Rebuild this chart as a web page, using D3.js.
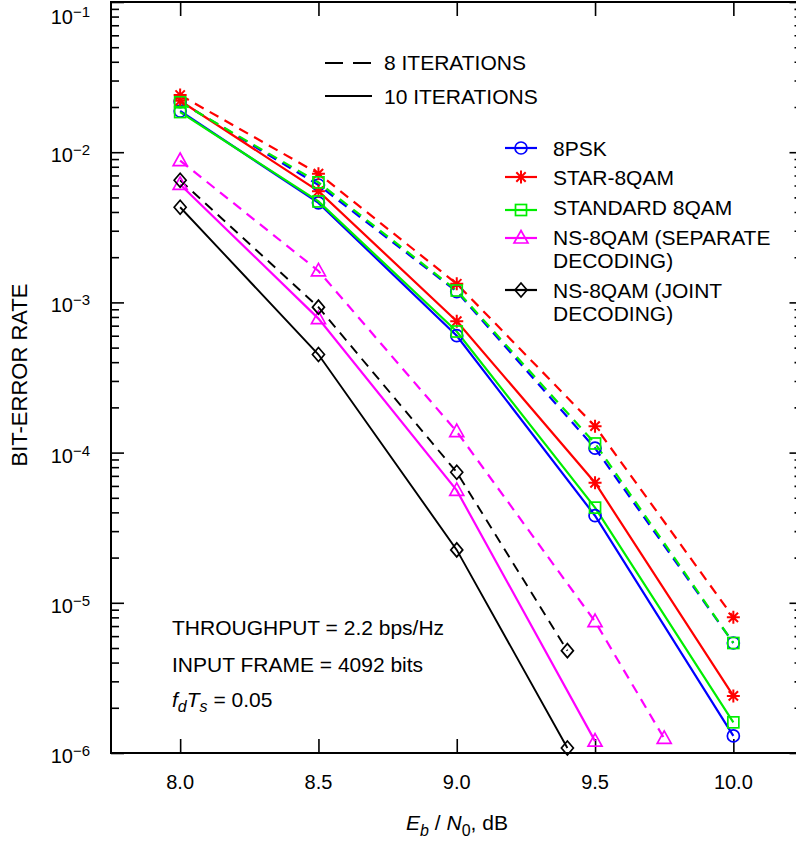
<!DOCTYPE html>
<html>
<head>
<meta charset="utf-8">
<script src="https://cdn.jsdelivr.net/npm/d3@7/dist/d3.min.js"></script>
<style>
  body { margin: 0; background: #fff; }
  svg { display: block; }
  text { font-family: 'Liberation Sans', Arial, Helvetica, sans-serif; fill: #000; }
</style>
</head>
<body>
<svg id="chart" width="796" height="841"></svg>
<script>
// Eb/N0 grid (dB) for each curve
const ebn0 = [8.0, 8.5, 9.0, 9.5, 10.0];
const ebn0NsSep8 = [8.0, 8.5, 9.0, 9.5, 9.75];
const ebn0NsSep10 = [8.0, 8.5, 9.0, 9.5];
const ebn0NsJoint = [8.0, 8.5, 9.0, 9.4];

// Bit-error rates, 8 and 10 decoder iterations
const psk8It8 = [2.17e-2, 6.05e-3, 1.18e-3, 1.07e-4, 5.4e-6];
const psk8It10 = [1.88e-2, 4.6e-3, 6.0e-4, 3.8e-5, 1.3e-6];
const starIt8 = [2.4e-2, 7.2e-3, 1.33e-3, 1.5e-4, 8.0e-6];
const starIt10 = [2.2e-2, 5.5e-3, 7.5e-4, 6.3e-5, 2.4e-6];
const stdIt8 = [2.15e-2, 6.3e-3, 1.2e-3, 1.15e-4, 5.4e-6];
const stdIt10 = [1.85e-2, 4.7e-3, 6.4e-4, 4.3e-5, 1.6e-6];
const nsSepIt8 = [8.8e-3, 1.62e-3, 1.38e-4, 7.5e-6, 1.25e-6];
const nsSepIt10 = [6.1e-3, 7.8e-4, 5.6e-5, 1.2e-6];
const nsJointIt8 = [6.5e-3, 9.3e-4, 7.4e-5, 4.8e-6];
const nsJointIt10 = [4.3e-3, 4.5e-4, 2.25e-5, 1.08e-6];

// Axis ticks
const xTicks = [8.0, 8.5, 9.0, 9.5, 10.0];
const xTickLabels = ["8.0", "8.5", "9.0", "9.5", "10.0"];
const yMajor = [1e-6, 1e-5, 1e-4, 1e-3, 1e-2, 1e-1];
const yExponents = ["\u22126", "\u22125", "\u22124", "\u22123", "\u22122", "\u22121"];

const seriesNames = ["8PSK", "STAR-8QAM", "STANDARD 8QAM", "NS-8QAM (SEPARATE|DECODING)", "NS-8QAM (JOINT|DECODING)"];
const seriesColors = ["#0000ff", "#ff0000", "#00ee00", "#ff00ff", "#000000"];
const seriesMarkers = ["circle", "asterisk", "square", "triangle", "diamond"];

const series = [
  { x8: ebn0, y8: psk8It8, x10: ebn0, y10: psk8It10 },
  { x8: ebn0, y8: starIt8, x10: ebn0, y10: starIt10 },
  { x8: ebn0, y8: stdIt8, x10: ebn0, y10: stdIt10 },
  { x8: ebn0NsSep8, y8: nsSepIt8, x10: ebn0NsSep10, y10: nsSepIt10 },
  { x8: ebn0NsJoint, y8: nsJointIt8, x10: ebn0NsJoint, y10: nsJointIt10 }
].map((s, i) => ({ ...s, name: seriesNames[i], color: seriesColors[i], marker: seriesMarkers[i] }));

const svg = d3.select("#chart");
const plotLeft = 111, plotRight = 802.5, plotTop = 2, plotBottom = 753;
const textSize = 21;

const x = d3.scaleLinear().domain([7.75, 10.25]).range([plotLeft, plotRight]);
const y = d3.scaleLog().domain([1e-6, 1e-1]).range([plotBottom, plotTop]);

const dashPattern = "10,7";

// minor ticks: 2..9 of each decade
const yMinor = y.ticks().filter(v => !yMajor.some(m => Math.abs(m - v) / m < 1e-9));

const axes = svg.append("g").attr("class", "axes");

function styleAxis(g) {
  g.select(".domain").remove();
  g.selectAll(".tick line").attr("stroke", "#000").attr("stroke-width", 1.6);
  g.selectAll(".tick text").remove();
}

axes.append("g").attr("transform", `translate(0,${plotBottom})`)
  .call(d3.axisBottom(x).tickValues(xTicks).tickSize(-14)).call(styleAxis);
axes.append("g").attr("transform", `translate(0,${plotTop})`)
  .call(d3.axisTop(x).tickValues(xTicks).tickSize(-14)).call(styleAxis);
axes.append("g").attr("transform", `translate(${plotLeft},0)`)
  .call(d3.axisLeft(y).tickValues(yMajor).tickSize(-13)).call(styleAxis);
axes.append("g").attr("transform", `translate(${plotLeft},0)`)
  .call(d3.axisLeft(y).tickValues(yMinor).tickSize(-8)).call(styleAxis);
axes.append("g").attr("transform", `translate(${plotRight},0)`)
  .call(d3.axisRight(y).tickValues(yMajor).tickSize(-13)).call(styleAxis);
axes.append("g").attr("transform", `translate(${plotRight},0)`)
  .call(d3.axisRight(y).tickValues(yMinor).tickSize(-8)).call(styleAxis);

axes.append("rect")
  .attr("x", plotLeft).attr("y", plotTop)
  .attr("width", plotRight - plotLeft).attr("height", plotBottom - plotTop)
  .attr("fill", "none").attr("stroke", "#000").attr("stroke-width", 2);

// x tick labels
svg.append("g").selectAll("text").data(xTicks).join("text")
  .attr("x", d => x(d)).attr("y", plotBottom + 36)
  .attr("text-anchor", "middle").attr("font-size", 20)
  .text((d, i) => xTickLabels[i]);

// y tick labels as powers of ten
const yl = svg.append("g").selectAll("text").data(yMajor).join("text")
  .attr("x", 90)
  .attr("y", d => Math.max(y(d) + 10, 24))
  .attr("text-anchor", "end").attr("font-size", 20);
yl.append("tspan").text("10");
yl.append("tspan").attr("dy", -7).attr("font-size", 15).text((d, i) => yExponents[i]);

// axis titles
svg.append("text")
  .attr("transform", `translate(27,375) rotate(-90)`)
  .attr("text-anchor", "middle").attr("font-size", 22)
  .text("BIT-ERROR RATE");

const xt = svg.append("text").attr("x", 457).attr("y", 830)
  .attr("text-anchor", "middle").attr("font-size", textSize);
xt.append("tspan").attr("font-style", "italic").text("E");
xt.append("tspan").attr("font-style", "italic").attr("font-size", 16).attr("dy", 6).text("b");
xt.append("tspan").attr("dy", -6).text(" / ");
xt.append("tspan").attr("font-style", "italic").text("N");
xt.append("tspan").attr("font-size", 16).attr("dy", 6).text("0");
xt.append("tspan").attr("dy", -6).text(", dB");

// marker shapes
function drawMarker(g, type, cx, cy, color) {
  const m = g.append("g").attr("transform", `translate(${cx},${cy})`)
    .attr("fill", "none").attr("stroke", color).attr("stroke-width", 1.7);
  if (type === "circle") {
    m.append("circle").attr("r", 6);
  } else if (type === "square") {
    m.append("rect").attr("x", -5.5).attr("y", -5.5).attr("width", 11).attr("height", 11);
  } else if (type === "triangle") {
    m.append("path").attr("d", "M0,-7.5L7,5L-7,5Z");
  } else if (type === "diamond") {
    m.append("path").attr("d", "M0,-7L6,0L0,7L-6,0Z");
  } else if (type === "asterisk") {
    const r = 6.5, d = r * 0.72;
    m.append("path").attr("stroke-width", 2)
      .attr("d", `M0,${-r}V${r}M${-r},0H${r}M${-d},${-d}L${d},${d}M${-d},${d}L${d},${-d}`);
  }
}

const line = d3.line().x(d => x(d[0])).y(d => y(d[1]));
const plot = svg.append("g").attr("class", "curves");

series.forEach(s => {
  const w = s.color === "#000000" ? 1.9 : 2.2;
  plot.append("path")
    .attr("d", line(s.x8.map((v, i) => [v, s.y8[i]])))
    .attr("fill", "none").attr("stroke", s.color).attr("stroke-width", w)
    .attr("stroke-dasharray", dashPattern);
  plot.append("path")
    .attr("d", line(s.x10.map((v, i) => [v, s.y10[i]])))
    .attr("fill", "none").attr("stroke", s.color).attr("stroke-width", w);
});

const marks = svg.append("g").attr("class", "markers");
series.forEach(s => {
  s.x8.forEach((v, i) => drawMarker(marks, s.marker, x(v), y(s.y8[i]), s.color));
  s.x10.forEach((v, i) => drawMarker(marks, s.marker, x(v), y(s.y10[i]), s.color));
});

// iteration legend
const legIt = svg.append("g");
[["8 ITERATIONS", true, 63, 70], ["10 ITERATIONS", false, 96, 104]].forEach(([label, dashed, ly, ty]) => {
  legIt.append("line").attr("x1", 325).attr("x2", 372).attr("y1", ly).attr("y2", ly)
    .attr("stroke", "#000").attr("stroke-width", 2.2)
    .attr("stroke-dasharray", dashed ? "18,10" : null);
  legIt.append("text").attr("x", 384).attr("y", ty).attr("font-size", textSize).text(label);
});

// modulation legend
const legRows = [
  { ly: 148, ty: 156 },
  { ly: 177, ty: 184.5 },
  { ly: 210, ty: 215 },
  { ly: 238, ty: 245 },
  { ly: 290, ty: 298 }
];
const legMod = svg.append("g");
series.forEach((s, i) => {
  const r = legRows[i];
  legMod.append("line").attr("x1", 505).attr("x2", 537).attr("y1", r.ly).attr("y2", r.ly)
    .attr("stroke", s.color).attr("stroke-width", 2.2);
  drawMarker(legMod, s.marker, 521, r.ly, s.color);
  const t = legMod.append("text").attr("x", 553).attr("y", r.ty).attr("font-size", textSize);
  s.name.split("|").forEach((part, k) => {
    t.append("tspan").attr("x", 553).attr("dy", k === 0 ? 0 : 23).text(part);
  });
});

// simulation parameters
const notes = svg.append("g");
notes.append("text").attr("x", 172).attr("y", 635).attr("font-size", textSize).text("THROUGHPUT = 2.2 bps/Hz");
notes.append("text").attr("x", 172).attr("y", 672).attr("font-size", textSize).text("INPUT FRAME = 4092 bits");
const fd = notes.append("text").attr("x", 172).attr("y", 707).attr("font-size", textSize);
fd.append("tspan").attr("font-style", "italic").text("f");
fd.append("tspan").attr("font-style", "italic").attr("font-size", 16).attr("dy", 5).text("d");
fd.append("tspan").attr("font-style", "italic").attr("dy", -5).text("T");
fd.append("tspan").attr("font-style", "italic").attr("font-size", 16).attr("dy", 5).text("s");
fd.append("tspan").attr("dy", -5).text(" = 0.05");
</script>
</body>
</html>
